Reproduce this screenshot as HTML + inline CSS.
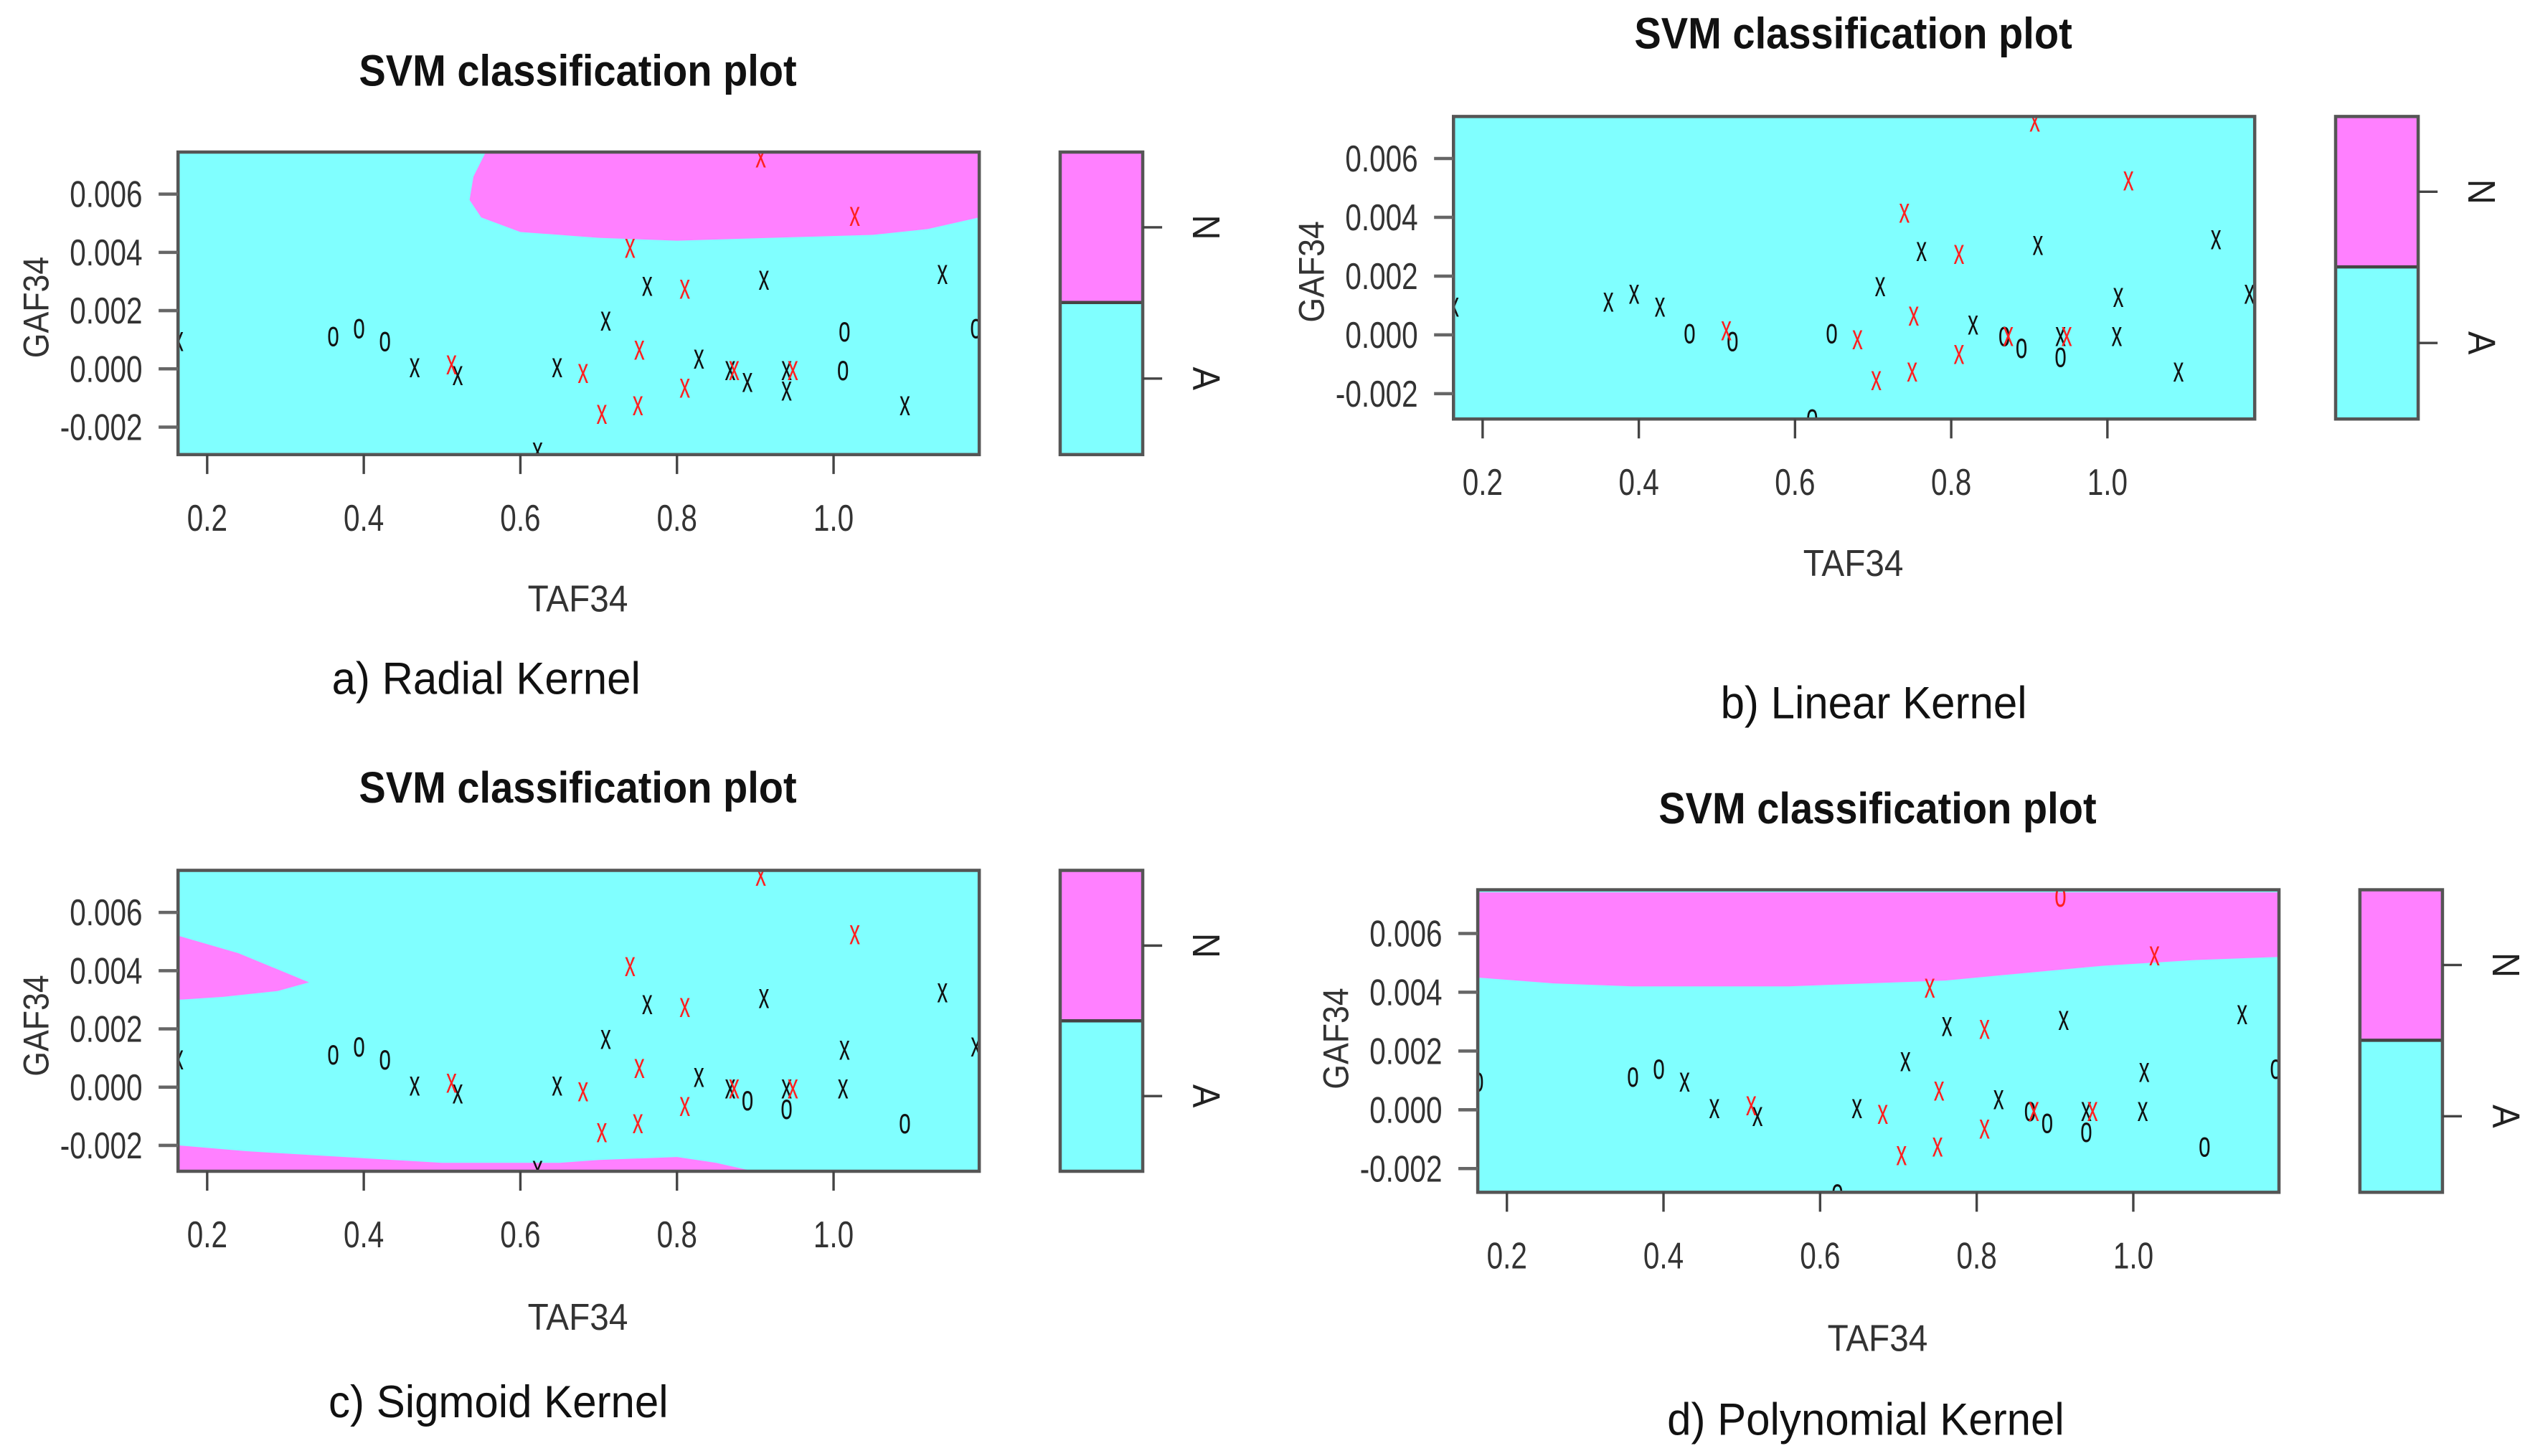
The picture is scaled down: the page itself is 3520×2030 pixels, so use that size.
<!DOCTYPE html>
<html><head><meta charset="utf-8">
<style>
html,body{margin:0;padding:0;background:#fff;}
svg{display:block;}
text{font-family:"Liberation Sans",sans-serif;}
</style></head>
<body>
<svg id="fig" width="3520" height="2030" viewBox="0 0 1560 900" preserveAspectRatio="none" xmlns="http://www.w3.org/2000/svg"></svg>
<script>
// ---- data ----
const pointX = [0.163,0.361,0.394,0.427,0.465,0.52,0.622,0.647,0.709,0.762,0.828,0.868,0.89,0.911,0.94,0.94,1.012,1.014,1.091,1.139,1.182,
                0.907,1.027,0.74,0.81,0.752,0.75,0.704,0.68,0.512,0.81,0.873,0.948];
const pointY = [0.001,0.00117,0.00144,0.001,0.0001,-0.00017,-0.0028,0.0001,0.0017,0.0029,0.0004,0.0,-0.0004,0.0031,0.0,-0.0007,0.0,0.00133,-0.0012,0.0033,0.00144,
                0.0073,0.0053,0.0042,0.0028,0.0007,-0.0012,-0.0015,-0.0001,0.0002,-0.0006,0.0,0.0];
const pointClass = ["A","A","A","A","A","A","A","A","A","A","A","A","A","A","A","A","A","A","A","A","A",
                    "N","N","N","N","N","N","N","N","N","N","N","N"];
const symbolsA = "xoooxxxxxxxxxxxxooxxo"+"xxxxxxxxxxxx";
const symbolsB = "xxxxooooxxxooxxoxxxxx"+"xxxxxxxxxxxx";
const symbolsC = "xoooxxxxxxxxoxxoxxoxx"+"xxxxxxxxxxxx";
const symbolsD = "oooxxxoxxxxooxxoxxoxo"+"oxxxxxxxxxxx";
const xTicks = [0.2,0.4,0.6,0.8,1.0];
const xTickLabels = ["0.2","0.4","0.6","0.8","1.0"];
const yTicks = [0.006,0.004,0.002,0.0,-0.002];
const yTickLabels = ["0.006","0.004","0.002","0.000","-0.002"];
// decision regions (class N) in data coords
const regionA_x = [0.555,0.54,0.535,0.55,0.6,0.7,0.8,0.92,1.05,1.12,1.186,1.186,0.555];
const regionA_y = [0.0074,0.0066,0.0058,0.0052,0.0047,0.0045,0.0044,0.0045,0.0046,0.0048,0.0052,0.0074,0.0074];
const regionC1_x = [0.163,0.24,0.33,0.29,0.22,0.163];
const regionC1_y = [0.0052,0.0046,0.0036,0.0033,0.0031,0.0030];
const regionC2_x = [0.163,0.25,0.5,0.52,0.65,0.7,0.8,0.85,0.9,0.9,0.163];
const regionC2_y = [-0.0020,-0.0022,-0.0026,-0.0026,-0.0026,-0.0025,-0.0024,-0.0026,-0.0029,-0.00294,-0.00294];
const regionD_x = [0.163,0.26,0.36,0.56,0.66,0.76,0.96,1.08,1.186,1.186,0.163];
const regionD_y = [0.0045,0.0043,0.0042,0.0042,0.0043,0.0044,0.0049,0.0051,0.0052,0.0074,0.0074];

const NS="http://www.w3.org/2000/svg";
const svg=document.getElementById('fig');
function mk(tag,attrs,parent,txt){const e=document.createElementNS(NS,tag);for(const k in attrs)e.setAttribute(k,attrs[k]);if(txt!==undefined)e.textContent=txt;(parent||svg).appendChild(e);return e;}
function ctext(parent,x,y,str,size,sx,attrs,rot){
 const tr='translate('+x+' '+y+')'+(rot?' rotate('+rot+')':'')+' scale('+sx+' 1)';
 const a=Object.assign({x:0,y:0,'font-size':size,transform:tr},attrs||{});
 return mk('text',a,parent,str);
}

const panels=[
 {id:'a',L:110,R:605,T:94,B:281,x02:128,x10:515,y0:228,y6:120,lg:[655,706,187],title:[357,53],xl:[357,378],yl:[30,190],cap:"a) Radial Kernel",cp:[205,429],sym:symbolsA,rx:[regionA_x],ry:[regionA_y]},
 {id:'b',L:898,R:1393,T:72,B:259,x02:916,x10:1302,y0:207,y6:98,lg:[1443,1494,165],title:[1145,30],xl:[1145,356],yl:[818,168],cap:"b) Linear Kernel",cp:[1063,444],sym:symbolsB,rx:[],ry:[]},
 {id:'c',L:110,R:605,T:538,B:724,x02:128,x10:515,y0:672,y6:564,lg:[655,706,631],title:[357,496],xl:[357,822],yl:[30,634],cap:"c) Sigmoid Kernel",cp:[203,876],sym:symbolsC,rx:[regionC1_x,regionC2_x],ry:[regionC1_y,regionC2_y]},
 {id:'d',L:913,R:1408,T:550,B:737,x02:931,x10:1318,y0:686,y6:577,lg:[1458,1509,643],title:[1160,509],xl:[1160,835],yl:[833,642],cap:"d) Polynomial Kernel",cp:[1030,887],sym:symbolsD,rx:[regionD_x],ry:[regionD_y]}
];

panels.forEach(p=>{
 const g=mk('g',{});
 
 
 const sx=v=>p.x02+(v-0.2)/0.8*(p.x10-p.x02);
 const sy=v=>p.y0-(v/0.006)*(p.y0-p.y6);
 const cp=mk('clipPath',{id:'clip'+p.id},g);
 mk('rect',{x:p.L,y:p.T,width:p.R-p.L,height:p.B-p.T},cp);
 const bg=mk('rect',{x:p.L,y:p.T,width:p.R-p.L,height:p.B-p.T,fill:'#80ffff'},g);
 
 
 p.rx.forEach((xs,i)=>{
  const ys=p.ry[i];
  const pts=xs.map((v,j)=>sx(v).toFixed(1)+','+sy(ys[j]).toFixed(1)).join(' ');
  const poly=mk('polygon',{points:pts,fill:'#ff80ff','clip-path':'url(#clip'+p.id+')'},g);
  
  
 });
 const pg=mk('g',{'clip-path':'url(#clip'+p.id+')'},g);
 pointX.forEach((v,i)=>{
  const t=ctext(pg,sx(v),sy(pointY[i])+7,p.sym[i],22,0.6,{'text-anchor':'middle',fill:pointClass[i]==='N'?'#ff2020':'#111'});
  
  
 });
 mk('rect',{x:p.L,y:p.T,width:p.R-p.L,height:p.B-p.T,fill:'none',stroke:'#555','stroke-width':2},g);
 xTicks.forEach((v,i)=>{
  const X=sx(v);
  mk('line',{x1:X,x2:X,y1:p.B,y2:p.B+12,stroke:'#444','stroke-width':1.5},g);
  const t=ctext(g,X,p.B+47,xTickLabels[i],23,0.78,{'text-anchor':'middle',fill:'#333'});
  
  
 });
 yTicks.forEach((v,i)=>{
  const Y=sy(v);
  mk('line',{x1:p.L-12,x2:p.L,y1:Y,y2:Y,stroke:'#666','stroke-width':2},g);
  const t=ctext(g,p.L-22,Y+8,yTickLabels[i],23,0.78,{'text-anchor':'end',fill:'#333'});
  
  
 });
 const tt=ctext(g,p.title[0],p.title[1],'SVM classification plot',27,0.92,{'text-anchor':'middle','font-weight':'bold',fill:'#111'});
 
 
 const xl=ctext(g,p.xl[0],p.xl[1],'TAF34',23,0.92,{'text-anchor':'middle',fill:'#333'});
 
 
 const yl=ctext(g,p.yl[0],p.yl[1],'GAF34',22,0.9,{'text-anchor':'middle',fill:'#333'},-90);
 
 
 const lg=mk('g',{},g);
 
 
 mk('rect',{x:p.lg[0],y:p.T,width:p.lg[1]-p.lg[0],height:p.lg[2]-p.T,fill:'#ff80ff'},lg);
 mk('rect',{x:p.lg[0],y:p.lg[2],width:p.lg[1]-p.lg[0],height:p.B-p.lg[2],fill:'#80ffff'},lg);
 mk('line',{x1:p.lg[0],x2:p.lg[1],y1:p.lg[2],y2:p.lg[2],stroke:'#444','stroke-width':2},lg);
 mk('rect',{x:p.lg[0],y:p.T,width:p.lg[1]-p.lg[0],height:p.B-p.T,fill:'none',stroke:'#555','stroke-width':2},lg);
 const nY=(p.T+p.lg[2])/2, aY=(p.lg[2]+p.B)/2;
 [[nY,'N'],[aY,'A']].forEach(([Y,l])=>{
  mk('line',{x1:p.lg[1],x2:p.lg[1]+12,y1:Y,y2:Y,stroke:'#444','stroke-width':1.5},lg);
  const t=ctext(lg,p.lg[1]+31,Y,l,24,0.9,{'text-anchor':'middle',fill:'#222'},90);
  
  
 });
 const c=ctext(g,p.cp[0],p.cp[1],p.cap,28,0.95,{fill:'#111'});
 
 
});
</script>
</body></html>
